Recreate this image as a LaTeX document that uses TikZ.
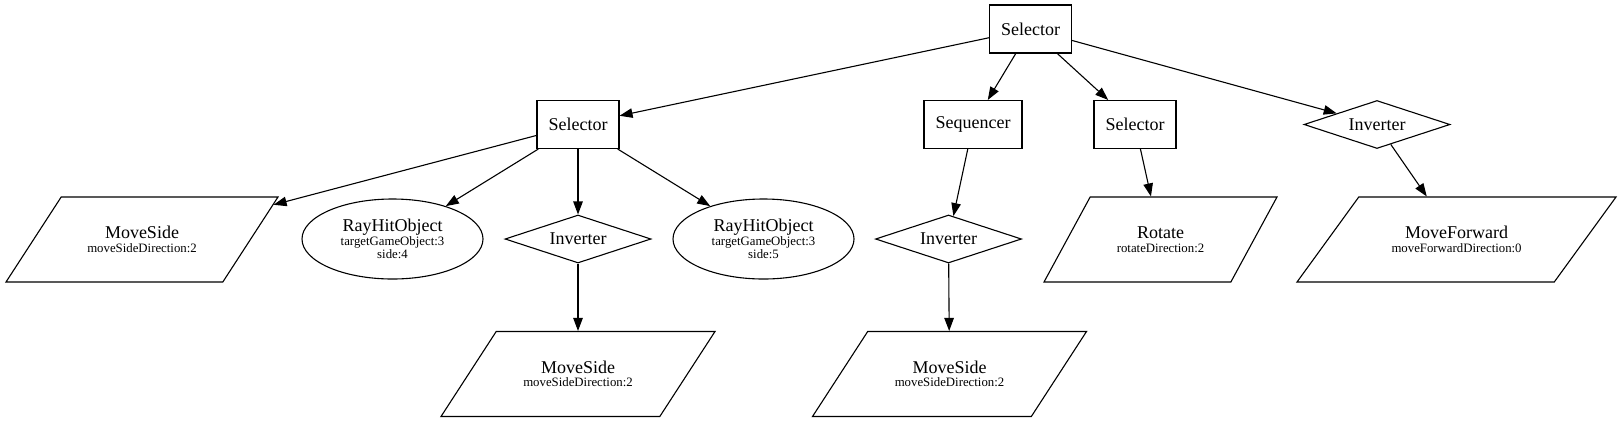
\documentclass[tikz,border=0pt]{standalone}
\usepackage{fontspec}
\setmainfont{Liberation Serif}
\usetikzlibrary{shapes.geometric,arrows.meta}
\newcommand{\nm}[1]{{\fontsize{18}{13.5}\selectfont #1}}
\newcommand{\actlbl}[2]{\parbox[c][60pt][c]{130pt}{\centering\nm{#1}\\#2}}

\begin{document}
\begin{tikzpicture}[x=1pt, y=-1pt,
    every node/.style={draw, line width=1.1pt, inner sep=0pt, align=center, font=\fontsize{12.8}{13.5}\selectfont},
    box/.style={rectangle, minimum height=48pt, inner xsep=11.5pt},
    cond/.style={ellipse, minimum width=181pt, minimum height=80pt},
    inv/.style={diamond, aspect=3, minimum width=146pt, minimum height=48pt},
    act/.style n args={3}{trapezium, trapezium stretches body, inner ysep=12.5pt, minimum width=#1pt, trapezium left angle=#2, trapezium right angle=#3},
    arr/.style={-{Triangle[length=13pt,width=9.5pt]}, line width=1.1pt}]
    \useasboundingbox (0,0) rectangle (1621,421);

    % Root
    \node[box] (root) at (1030.5,29) {\nm{Selector}};

    % First row
    \node[box] (sel-1) at (578,124.5) {\nm{Selector}};
    \node[box] (seq-1) at (973,124.5) {\nm{Sequencer}};
    \node[box] (sel-2) at (1135,124.5) {\nm{Selector}};
    \node[inv] (inv-1) at (1377,124.5) {\nm{Inverter}};

    % Second row
    \node[act={272}{57}{123}] (move-1) at (142,239.5) {\actlbl{MoveSide}{moveSideDirection:2}};
    \node[cond] (ray-1) at (392.5,239) {\nm{RayHitObject}\\targetGameObject:3\\side:4};
    \node[inv] (inv-2) at (578,239) {\nm{Inverter}};
    \node[cond] (ray-2) at (763.5,239) {\nm{RayHitObject}\\targetGameObject:3\\side:5};
    \node[inv] (inv-3) at (948.5,239) {\nm{Inverter}};
    \node[act={233}{61.5}{118.5}] (rot-1) at (1160.5,239.5) {\actlbl{Rotate}{rotateDirection:2}};
    \node[act={319}{54}{126}] (fwd-1) at (1456.5,239.5) {\actlbl{MoveForward}{moveForwardDirection:0}};

    % Third row
    \node[act={274}{57}{123}] (move-2) at (578,374) {\actlbl{MoveSide}{moveSideDirection:2}};
    \node[act={274}{57}{123}] (move-3) at (949.5,374) {\actlbl{MoveSide}{moveSideDirection:2}};

    \draw[arr] (root) -- (sel-1);
    \draw[arr] (root) -- (seq-1);
    \draw[arr] (root) -- (sel-2);
    \draw[arr] (root) -- (inv-1);
    \draw[arr] (sel-1) -- (move-1);
    \draw[arr] (sel-1) -- (ray-1);
    \draw[arr] (sel-1) -- (inv-2);
    \draw[arr] (sel-1) -- (ray-2);
    \draw[arr] (inv-2) -- (move-2);
    \draw[arr] (seq-1) -- (inv-3);
    \draw[arr] (inv-3) -- (move-3);
    \draw[arr] (sel-2) -- (rot-1);
    \draw[arr] (inv-1) -- (fwd-1);

\end{tikzpicture}
\end{document}
